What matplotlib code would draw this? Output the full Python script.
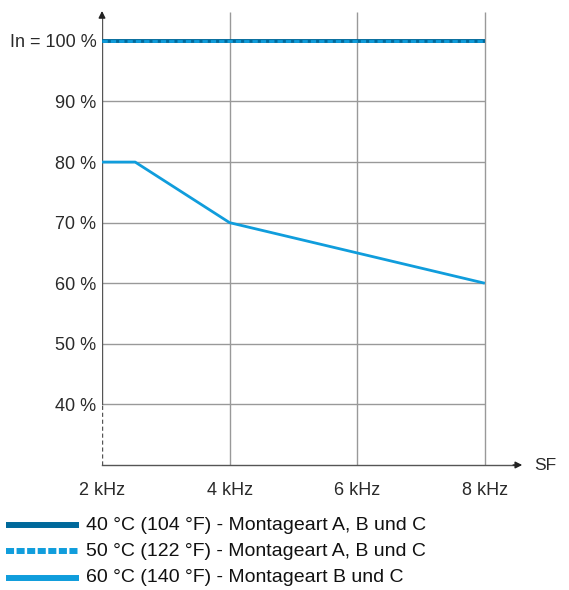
import matplotlib.pyplot as plt

plt.rcParams['font.family'] = ['Liberation Sans', 'DejaVu Sans']

# Daten
freq_khz = [2, 4, 6, 8]
x_labels = ['2 kHz', '4 kHz', '6 kHz', '8 kHz']
y_ticks = [40, 50, 60, 70, 80, 90, 100]
y_labels = ['40 %', '50 %', '60 %', '70 %', '80 %', '90 %', 'In = 100 %']

x_40 = [2, 8]
y_40 = [100, 100]
x_50 = [2, 8]
y_50 = [100, 100]
x_60 = [2, 2.52, 4, 8]
y_60 = [80, 80, 70, 60]

legend_texts = ['40 °C (104 °F) - Montageart A, B und C',
                '50 °C (122 °F) - Montageart A, B und C',
                '60 °C (140 °F) - Montageart B und C']

dark_blue = '#00699b'
light_blue = '#109ddc'
grid_col = '#999999'
txt_col = '#2a2a2a'

fig = plt.figure(figsize=(5.69, 5.90), dpi=100)
ax = fig.add_axes([102/569, (590-465)/590, (525-102)/569, (465-10)/590])
ax.set_xlim(2, 8.63)
ax.set_ylim(30, 105.1)
for s in ax.spines.values():
    s.set_visible(False)

# Gitter
ax.hlines(y_ticks[:-1], 2, 8, color=grid_col, lw=1, zorder=1)
ax.vlines(freq_khz[1:], 29.3, 104.7, color=grid_col, lw=1, zorder=1)

# Achsen
ax.plot([2, 2], [40, 104.5], color='#555555', lw=1, zorder=2)
ax.plot([2, 2], [30, 40], color='#555555', lw=1, ls=(0, (3, 2)), zorder=2)
ax.plot([2, 8.45], [30, 30], color='#555555', lw=1, zorder=2, clip_on=False)
ax.annotate('', xy=(8.63, 30), xytext=(8.4, 30),
            arrowprops=dict(arrowstyle='-|>', color='#222222', lw=1, mutation_scale=10),
            annotation_clip=False)
ax.annotate('', xy=(2, 105.4), xytext=(2, 103.5),
            arrowprops=dict(arrowstyle='-|>', color='#222222', lw=1, mutation_scale=10),
            annotation_clip=False)
ax.text(8.95, 30, 'SF', fontsize=12.5, va='center', ha='center', color=txt_col)

# Kurven
ax.plot(x_40, y_40, color=dark_blue, lw=2.8, solid_capstyle='butt', zorder=3)
ax.plot(x_50, y_50, color=light_blue, lw=2.0, ls=(0, (1.9, 1.1)), zorder=4)
ax.plot(x_60, y_60, color=light_blue, lw=2.0, solid_capstyle='butt', zorder=3)

ax.set_xticks(freq_khz)
ax.set_xticklabels(x_labels, fontsize=13, color=txt_col)
ax.set_yticks(y_ticks)
ax.set_yticklabels(y_labels, fontsize=13, color=txt_col)
ax.tick_params(axis='x', length=0, pad=12)
ax.tick_params(axis='y', length=0, pad=4)

# Legende
leg_y = [525, 551, 578]
styles = [(dark_blue, '-'), (light_blue, (0, (1.35, 0.42))), (light_blue, '-')]
for yy, txt, (c, ls) in zip(leg_y, legend_texts, styles):
    fy = 1 - yy / 590
    fig.add_artist(plt.Line2D([6/569, 79/569], [fy, fy], color=c, lw=4.3,
                              ls=ls, solid_capstyle='butt', dash_capstyle='butt'))
    fig.text(86/569, fy, txt, fontsize=14, va='center', ha='left', color='#111111')

fig.savefig('out.png', dpi=100)
